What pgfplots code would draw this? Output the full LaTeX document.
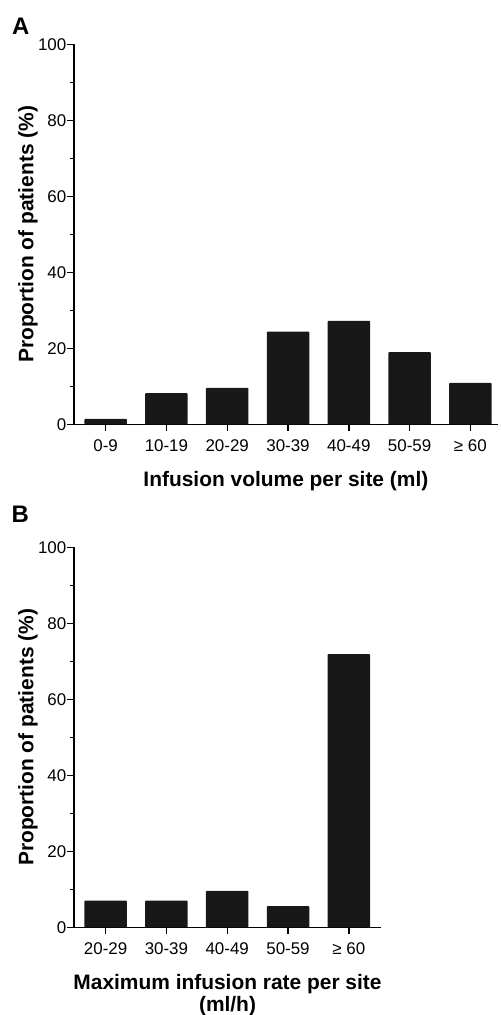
\documentclass[border=0pt]{standalone}
\usepackage{fontspec}
\setmainfont{Liberation Sans}
\usepackage{pgfplots}
\pgfplotsset{compat=1.18}

\definecolor{barfill}{HTML}{181818}

\pgfplotsset{
  panel/.style={
    scale only axis,
    x=60.8bp, y=3.8bp,
    ymin=0, ymax=100,
    axis x line*=bottom, axis y line*=left,
    axis line style={line width=1.5bp, -},
    tick style={line width=1.4bp, black},
    tick align=outside,
    major tick length=6.5bp,
    minor tick length=3.5bp,
    ytick={0,20,...,100},
    minor ytick={10,30,...,90},
    /pgf/number format/assume math mode=true,
    tick label style={font=\fontsize{17}{19}\selectfont},
    yticklabel style={inner sep=1bp},
    xticklabel style={anchor=base, yshift=-21bp},
    label style={font=\bfseries\fontsize{21}{22.5}\selectfont},
    ylabel={Proportion of patients (\%)},
    ylabel style={at={(axis description cs:0,0.5)}, anchor=base, yshift=40.7bp},
    ybar, bar width=42.5bp,
  },
  panelbar/.style={fill=barfill, draw=none, rounded corners=0.8bp},
}

\begin{document}
\begin{tikzpicture}
\path[use as bounding box] (0,0) rectangle (501bp,-1015bp);

\node[anchor=base west, inner sep=0, font=\bfseries\fontsize{24}{28}\selectfont] at (12bp,-34bp) {A};
\node[anchor=base west, inner sep=0, font=\bfseries\fontsize{24}{28}\selectfont] at (11.5bp,-522.5bp) {B};

\begin{axis}[panel,
  at={(74bp,-424.3bp)}, anchor=south west,
  xmin=-0.52, xmax=6.45,
  xtick={0,...,6},
  xticklabels={0-9,10-19,20-29,30-39,40-49,50-59,≥ 60},
  xlabel={Infusion volume per site (ml)},
  xlabel style={at={(axis description cs:0.5,0)}, anchor=base, yshift=-61.7bp},
]
\addplot[panelbar] coordinates {(0,1.4) (1,8.2) (2,9.6) (3,24.4) (4,27.2) (5,19.0) (6,10.9)};
\end{axis}

\begin{axis}[panel,
  at={(74bp,-927.3bp)}, anchor=south west,
  xmin=-0.52, xmax=4.53,
  xtick={0,...,4},
  xticklabels={20-29,30-39,40-49,50-59,≥ 60},
  xlabel={Maximum infusion rate per site\\(ml/h)},
  xlabel style={at={(axis description cs:0.5,0)}, anchor=north, align=center, inner sep=0, yshift=-46.5bp},
]
\addplot[panelbar] coordinates {(0,7.0) (1,7.0) (2,9.6) (3,5.6) (4,71.9)};
\end{axis}
\end{tikzpicture}
\end{document}
